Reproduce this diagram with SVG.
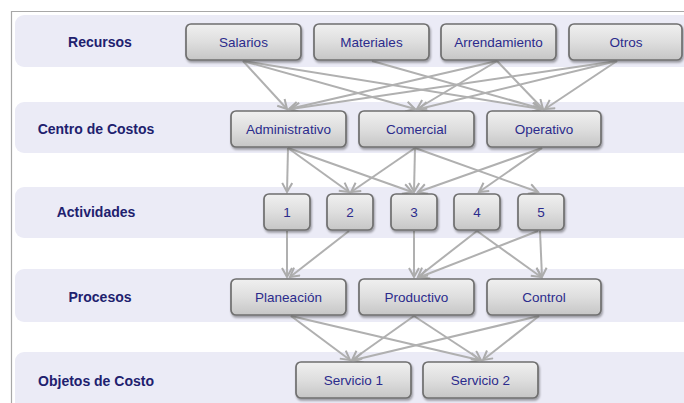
<svg xmlns="http://www.w3.org/2000/svg" width="684" height="403" viewBox="0 0 684 403">
<defs>
<linearGradient id="boxg" x1="0" y1="0" x2="0" y2="1">
<stop offset="0" stop-color="#F0F0F0"/>
<stop offset="0.5" stop-color="#DEDEDE"/>
<stop offset="1" stop-color="#C6C6C6"/>
</linearGradient>
<filter id="sh" x="-10%" y="-10%" width="125%" height="140%">
<feDropShadow dx="1" dy="2" stdDeviation="1.2" flood-color="#000" flood-opacity="0.35"/>
</filter>
<marker id="arr" markerUnits="userSpaceOnUse" markerWidth="14" markerHeight="14" refX="10" refY="6" orient="auto">
<path d="M1,1 L10,6 L1,11" fill="none" stroke="#ABABAB" stroke-width="2"/>
</marker>
</defs>
<style>
.band{fill:#EBEBF6}
.box{fill:url(#boxg);stroke:#6F6F6F;stroke-width:1.7;filter:url(#sh)}
.lbl{font-family:"Liberation Sans",Arial,sans-serif;font-weight:bold;font-size:14px;fill:#20206E;text-anchor:middle;dominant-baseline:central}
.t{font-family:"Liberation Sans",Arial,sans-serif;font-size:13.5px;fill:#2B2B8C;text-anchor:middle;dominant-baseline:central}
.c line{stroke:#B0B0B0;stroke-width:2;marker-end:url(#arr)}
</style>
<rect x="0" y="0" width="684" height="403" fill="#FFFFFF"/>
<path d="M11.5,403 V11.5 H684" fill="none" stroke="#A8A8A8" stroke-width="1.2"/>
<g id="bands">
<rect class="band" x="15" y="15" width="690" height="52" rx="9"/>
<rect class="band" x="15" y="102" width="690" height="51" rx="9"/>
<rect class="band" x="15" y="187" width="690" height="51" rx="9"/>
<rect class="band" x="15" y="269" width="690" height="53" rx="9"/>
<rect class="band" x="15" y="352" width="690" height="60" rx="9"/>
</g>
<g id="labels">
<text class="lbl" x="100" y="42">Recursos</text>
<text class="lbl" x="96" y="129">Centro de Costos</text>
<text class="lbl" x="96" y="212">Actividades</text>
<text class="lbl" x="100" y="297">Procesos</text>
<text class="lbl" x="96" y="381">Objetos de Costo</text>
</g>
<g class="c" id="connectors">
<line x1="243" y1="61" x2="287" y2="109"/>
<line x1="243" y1="61" x2="415" y2="109"/>
<line x1="243" y1="61" x2="541" y2="109"/>
<line x1="372" y1="61" x2="542" y2="109"/>
<line x1="497" y1="61" x2="289" y2="109"/>
<line x1="497" y1="61" x2="417" y2="109"/>
<line x1="497" y1="61" x2="543" y2="109"/>
<line x1="617" y1="61" x2="291" y2="109"/>
<line x1="617" y1="61" x2="419" y2="109"/>
<line x1="617" y1="61" x2="545" y2="109"/>
<line x1="288" y1="148" x2="287" y2="192"/>
<line x1="288" y1="148" x2="349" y2="192"/>
<line x1="288" y1="148" x2="412" y2="192"/>
<line x1="415" y1="148" x2="351" y2="192"/>
<line x1="415" y1="148" x2="414" y2="192"/>
<line x1="415" y1="148" x2="538" y2="192"/>
<line x1="542" y1="148" x2="418" y2="192"/>
<line x1="542" y1="148" x2="479" y2="192"/>
<line x1="287" y1="231" x2="287" y2="277"/>
<line x1="349" y1="231" x2="290" y2="277"/>
<line x1="414" y1="231" x2="414" y2="277"/>
<line x1="477" y1="231" x2="418" y2="277"/>
<line x1="477" y1="231" x2="541" y2="277"/>
<line x1="538" y1="231" x2="420" y2="277"/>
<line x1="540" y1="231" x2="542" y2="277"/>
<line x1="291" y1="316" x2="350" y2="360"/>
<line x1="291" y1="316" x2="479" y2="360"/>
<line x1="414" y1="316" x2="352" y2="360"/>
<line x1="414" y1="316" x2="481" y2="360"/>
<line x1="539" y1="316" x2="354" y2="360"/>
<line x1="539" y1="316" x2="483" y2="360"/>
</g>
<g id="n-salarios"><rect class="box" x="186" y="24" width="115" height="36" rx="5"/><text class="t" x="243.5" y="42">Salarios</text></g>
<g id="n-materiales"><rect class="box" x="314" y="24" width="115" height="36" rx="5"/><text class="t" x="371.5" y="42">Materiales</text></g>
<g id="n-arrendamiento"><rect class="box" x="441" y="24" width="115" height="36" rx="5"/><text class="t" x="498.5" y="42">Arrendamiento</text></g>
<g id="n-otros"><rect class="box" x="569" y="24" width="113" height="36" rx="5"/><text class="t" x="626" y="42">Otros</text></g>
<g id="n-administrativo"><rect class="box" x="231" y="111" width="115" height="36" rx="5"/><text class="t" x="288.5" y="129">Administrativo</text></g>
<g id="n-comercial"><rect class="box" x="359" y="111" width="115" height="36" rx="5"/><text class="t" x="416.5" y="129">Comercial</text></g>
<g id="n-operativo"><rect class="box" x="487" y="111" width="114" height="36" rx="5"/><text class="t" x="544" y="129">Operativo</text></g>
<g id="n-a1"><rect class="box" x="264" y="194" width="46" height="36" rx="5"/><text class="t" x="287" y="212">1</text></g>
<g id="n-a2"><rect class="box" x="327" y="194" width="46" height="36" rx="5"/><text class="t" x="350" y="212">2</text></g>
<g id="n-a3"><rect class="box" x="391" y="194" width="46" height="36" rx="5"/><text class="t" x="414" y="212">3</text></g>
<g id="n-a4"><rect class="box" x="454" y="194" width="46" height="36" rx="5"/><text class="t" x="477" y="212">4</text></g>
<g id="n-a5"><rect class="box" x="518" y="194" width="46" height="36" rx="5"/><text class="t" x="541" y="212">5</text></g>
<g id="n-planeacion"><rect class="box" x="231" y="279" width="115" height="36" rx="5"/><text class="t" x="288.5" y="297">Planeación</text></g>
<g id="n-productivo"><rect class="box" x="359" y="279" width="115" height="36" rx="5"/><text class="t" x="416.5" y="297">Productivo</text></g>
<g id="n-control"><rect class="box" x="487" y="279" width="114" height="36" rx="5"/><text class="t" x="544" y="297">Control</text></g>
<g id="n-servicio1"><rect class="box" x="296" y="362" width="115" height="36" rx="5"/><text class="t" x="353.5" y="380">Servicio 1</text></g>
<g id="n-servicio2"><rect class="box" x="423" y="362" width="115" height="36" rx="5"/><text class="t" x="480.5" y="380">Servicio 2</text></g>
</svg>
